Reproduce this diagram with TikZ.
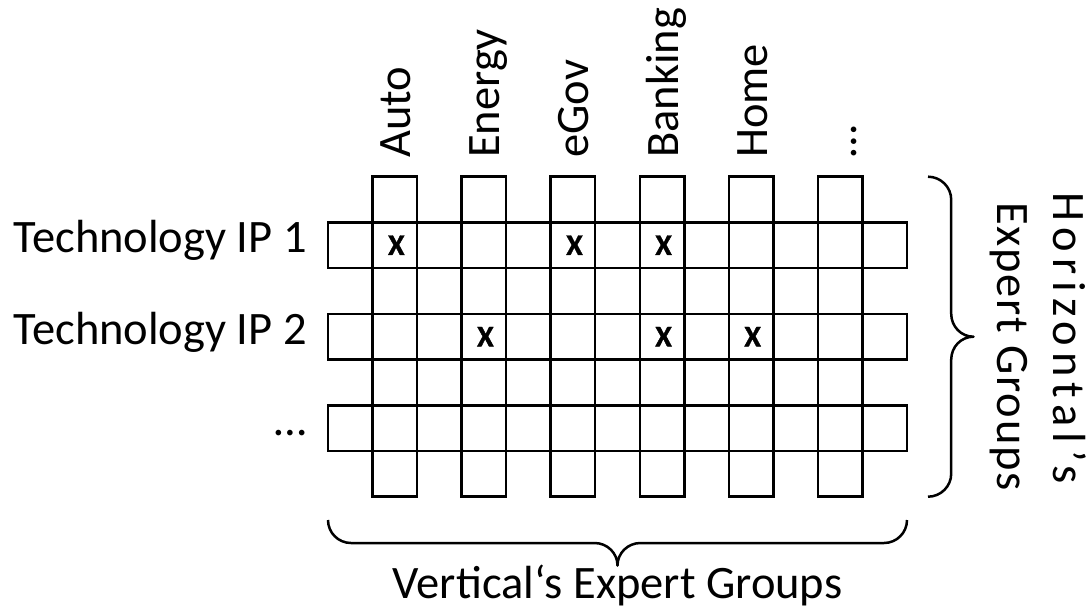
\documentclass[tikz,border=0pt]{standalone}
\usepackage{fontspec}
\setmainfont{Carlito}
\newfontfamily\markfont{Carlito}[UprightFont=*-Bold, FakeBold=1.2]
\begin{document}
\begin{tikzpicture}[x=1pt,y=-1pt,
  lane/.style={draw, line width=2.5pt, rectangle, inner sep=0pt},
  lbl/.style={inner sep=0pt, font=\fontsize{46.5}{56}\selectfont},
  xmark/.style={inner sep=0pt, font=\fontsize{30}{32}\markfont},
  brace line/.style={line width=2.5pt, line join=round}]
\useasboundingbox (0,0) rectangle (1087,611);
% cell size of the grid and its top-left corner
\def\cw{44.54}\def\ch{45.71}
\def\gx{328}\def\gy{176.7}
% vertical lanes (industries)
\foreach \i/\name in {0/Auto,1/Energy,2/eGov,3/Banking,4/Home,5/…}{
  \node[lane, minimum width=\cw pt, minimum height=7*\ch pt] (c\i)
    at ({\gx+(2*\i+1.5)*\cw}, {\gy+3.5*\ch}) {};
  \node[lbl, rotate=90, anchor=base west] (t\i)
    at ({\gx+(2*\i+1.5)*\cw+16}, 158) {\name};
}
% horizontal lanes (technologies)
\foreach \j/\name in {0/Technology IP 1,1/Technology IP 2,2/…}{
  \node[lane, minimum width=13*\cw pt, minimum height=\ch pt] (r\j)
    at ({\gx+6.5*\cw}, {\gy+(2*\j+1.5)*\ch}) {};
  \node[lbl, anchor=base east] (l\j)
    at (307, {\gy+(2*\j+1.5)*\ch+7.5}) {\name};
}
% crossings that are covered
\foreach \i/\j in {0/0,2/0,3/0,1/1,3/1,4/1}{
  \node[xmark] (x\i\j) at ([xshift=1.5pt]c\i |- r\j) {X};
}
% right brace: horizontal expert groups
\coordinate (rbt) at (928,176.7);
\coordinate (rbb) at (928,496.7);
\draw[brace line] (rbt) .. controls (940.7,176.7) and (951.2,187) .. (951.2,199.7)
  -- (951.2,313.7) .. controls (951.2,326.4) and (961,336.7) .. (973.5,336.7)
  .. controls (961,336.7) and (951.2,347) .. (951.2,359.7)
  -- (951.2,473.7) .. controls (951.2,486.4) and (940.7,496.7) .. (rbb);
\node[lbl, rotate=-90, anchor=base west] (hz1) at (1053,192)
  {\addfontfeature{LetterSpace=13.7}Horizontal’s};
\node[lbl, rotate=-90, anchor=base west] (hz2) at (997,202)
  {\addfontfeature{LetterSpace=3.8}Expert Groups};
% bottom brace: vertical expert groups
\coordinate (bbl) at (328,520);
\coordinate (bbr) at (907,520);
\draw[brace line] (bbl) .. controls (328,532.7) and (338.3,543) .. (351,543)
  -- (594.5,543) .. controls (607.2,543) and (617.5,553) .. (617.5,565.5)
  .. controls (617.5,553) and (627.8,543) .. (640.5,543)
  -- (884,543) .. controls (896.7,543) and (907,532.7) .. (bbr);
\node[lbl, anchor=base] (vt) at (617.5,598) {Vertical‘s Expert Groups};
\end{tikzpicture}
\end{document}
